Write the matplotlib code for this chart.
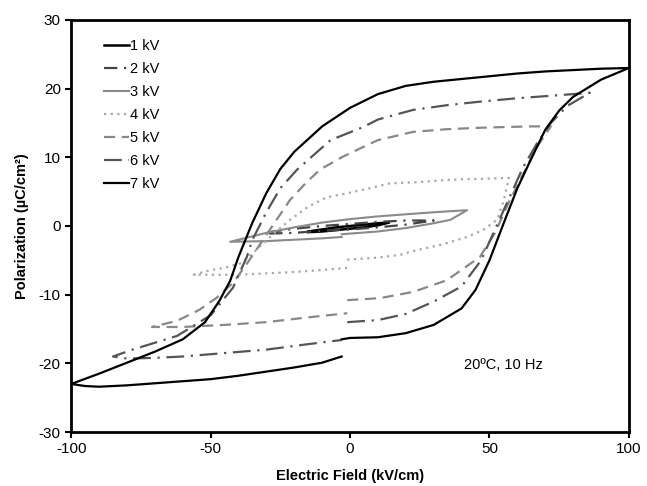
import matplotlib.pyplot as plt

plt.rcParams['font.family'] = ['Liberation Sans', 'DejaVu Sans']
plt.rcParams['axes.unicode_minus'] = False

# ----------------------------
# Hysteresis loops (E in kV/cm, P in uC/cm^2)
# each loop: lower-right branch -> upper branch -> lower-left branch
# ----------------------------
E_1kv = [-15, -10, -5, 0, 5, 10, 14, 10, 5, 0, -5, -10, -15]
P_1kv = [-0.9, -0.8, -0.6, -0.4, -0.2, 0.1, 0.5, 0.4, 0.2, 0.0, -0.2, -0.5, -0.8]

E_2kv = [-29, -20, -10, 0, 10, 20, 30, 20, 10, 0, -10, -20, -29]
P_2kv = [-1.1, -1.0, -0.7, -0.5, -0.2, 0.2, 0.8, 0.8, 0.6, 0.3, 0.0, -0.4, -0.9]

E_3kv = [-3, 10, 20, 30, 36, 42, 30, 20, 10, 0, -10, -20, -30, -43,
         -30, -20, -10, -3]
P_3kv = [-1.2, -0.8, -0.3, 0.4, 0.9, 2.3, 2.0, 1.7, 1.4, 1.0, 0.5, -0.2, -1.0, -2.3,
         -2.2, -2.0, -1.8, -1.6]

E_4kv = [-1, 10, 18, 24, 33, 42, 48, 52.7, 55, 57,
         50, 40, 34.7, 25, 14.3, 5, -3, -8.3, -15, -21.5, -27, -31, -35, -39, -45, -50, -56,
         -50, -40, -30, -20, -10, -1]
P_4kv = [-4.9, -4.6, -4.2, -3.5, -2.7, -1.6, -0.5, 0.9, 3.5, 7.0,
         6.9, 6.8, 6.7, 6.4, 6.2, 5.3, 4.6, 4.2, 2.8, 0.9, -1.0, -2.5, -4.0, -5.4, -6.1, -6.4, -7.1,
         -7.1, -7.1, -6.9, -6.7, -6.4, -6.1]

E_5kv = [-1, 10.8, 22.6, 34.7, 46.6, 52, 57, 62, 67, 72,
         65, 55, 46.6, 35, 22.6, 10, 4.7, -3, -10.8, -16, -21.5, -27, -32, -37, -42, -48, -54, -62, -71,
         -60, -45, -30, -15, -1]
P_5kv = [-10.8, -10.5, -9.6, -7.9, -4.5, -1.0, 3.5, 7.5, 11.5, 14.5,
         14.5, 14.4, 14.3, 14.1, 13.7, 12.5, 11.5, 10.0, 8.2, 6.2, 3.8, 0.5, -2.5, -5.5, -8.3, -10.5, -12.2, -13.8, -14.7,
         -14.7, -14.4, -14.0, -13.3, -12.7]

E_6kv = [-1, 10, 20, 30, 40, 47, 52, 57, 62, 67, 72, 78, 86,
         80, 70, 60, 46.6, 35, 22.6, 10, 4.7, -7, -19, -25, -30, -35, -37, -42, -50, -62, -78, -85,
         -80, -70, -60, -45, -30, -15, -3]
P_6kv = [-14.0, -13.7, -12.8, -11.0, -8.8, -5.0, -0.5, 4.0, 8.5, 12.0, 15.0, 17.5, 19.4,
         19.2, 18.9, 18.6, 18.1, 17.6, 16.9, 15.5, 14.4, 12.5, 8.2, 5.5, 2.0, -2.0, -4.5, -9.0, -13.0, -16.0, -18.0, -19.0,
         -19.3, -19.2, -19.0, -18.5, -18.0, -17.2, -16.6]

E_7kv = [-3, 0, 10, 20, 30, 40, 45, 50, 55, 60, 65, 70, 75, 80, 90, 100,
         90, 80, 70, 60, 50, 40, 30, 20, 10, 0, -10, -20, -25, -30, -35, -38, -40, -43, -47, -52, -60, -70, -80, -90, -100,
         -95, -90, -80, -70, -60, -50, -40, -30, -20, -10, -3]
P_7kv = [-16.5, -16.3, -16.2, -15.6, -14.4, -12.0, -9.3, -5.0, 0.3, 5.5, 9.8, 14.0, 16.8, 18.8, 21.3, 23.0,
         22.9, 22.7, 22.5, 22.2, 21.8, 21.4, 21.0, 20.4, 19.2, 17.2, 14.5, 10.8, 8.3, 4.8, 0.5, -2.5, -4.5, -8.0, -11.0, -14.0, -16.5, -18.3, -19.9, -21.5, -23.0,
         -23.3, -23.4, -23.2, -22.9, -22.6, -22.3, -21.8, -21.2, -20.6, -19.9, -19.0]

labels = ["1 kV", "2 kV", "3 kV", "4 kV", "5 kV", "6 kV", "7 kV"]
loops = [(E_1kv, P_1kv), (E_2kv, P_2kv), (E_3kv, P_3kv), (E_4kv, P_4kv),
         (E_5kv, P_5kv), (E_6kv, P_6kv), (E_7kv, P_7kv)]

styles = [
    dict(color="black", lw=1.8),
    dict(color="#444444", lw=1.6, dashes=(6, 3, 1, 3)),
    dict(color="#8a8a8a", lw=1.5),
    dict(color="#a8a8a8", lw=1.6, dashes=(1, 2)),
    dict(color="#888888", lw=1.6, dashes=(5, 3)),
    dict(color="#555555", lw=1.6, dashes=(8, 3, 1, 3)),
    dict(color="black", lw=1.6),
]

fig = plt.figure(figsize=(6.47, 4.86), dpi=100)
ax = fig.add_axes([0.110, 0.111, 0.862, 0.848])

for (E, P), lab, st in zip(loops, labels, styles):
    ax.plot(E, P, label=lab, **st)

ax.set_xlim(-100, 100)
ax.set_ylim(-30, 30)
ax.set_xticks([-100, -50, 0, 50, 100])
ax.set_yticks([-30, -20, -10, 0, 10, 20, 30])
ax.tick_params(direction="out", length=4, width=1.5, labelsize=11)
for s in ax.spines.values():
    s.set_linewidth(2)

ax.set_xlabel("Electric Field (kV/cm)", fontsize=10.5, fontweight="bold", labelpad=9)
ax.set_ylabel("Polarization (µC/cm²)", fontsize=10.5, fontweight="bold", labelpad=7)

ax.text(55, -20.2, "20ºC, 10 Hz", fontsize=10.5, ha="center", va="center")

ax.legend(loc="upper left", frameon=False, fontsize=10.5, handlelength=1.7,
          handletextpad=0.1, labelspacing=0.62, bbox_to_anchor=(0.035, 0.985))

fig.savefig("out.png", dpi=100)
